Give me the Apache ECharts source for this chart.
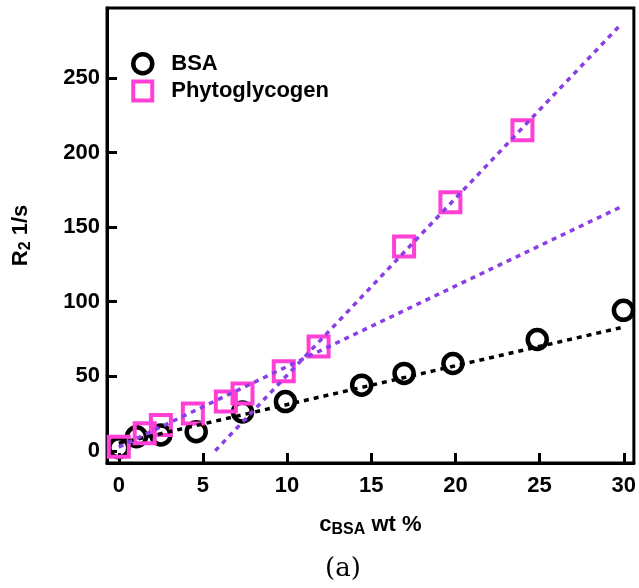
<!DOCTYPE html>
<html>
<head>
<meta charset="utf-8">
<script src="https://cdn.jsdelivr.net/npm/echarts@6/dist/echarts.min.js"></script>
<style>
    html, body { margin: 0; padding: 0; background: #fff; }
    #chart { width: 639px; height: 588px; }
</style>
</head>
<body>
<div id="chart"></div>
<script>
    // data
    var bsaPoints = [[0, 2], [1.05, 9.4], [2.5, 10.6], [4.6, 12.8], [7.35, 26], [9.9, 33],
        [14.43, 44], [16.95, 51.9], [19.85, 58.5], [24.86, 74.6], [29.98, 94.2]];
    var phytoPoints = [[0, 2.7], [1.54, 11.7], [2.5, 17.3], [4.4, 25], [6.36, 33], [7.35, 38.5],
        [9.8, 53.4], [11.87, 70], [16.95, 137], [19.7, 166.7], [23.98, 215]];
    // fitted lines (end points)
    var bsaFit = [[0, 5], [30, 83]];
    var phytoLowFit = [[0, 2.5], [30, 164.5]];
    var phytoHighFit = [[5.73, 0], [29.83, 286]];
    var xTicks = [0, 5, 10, 15, 20, 25, 30];
    var yTicks = [0, 50, 100, 150, 200, 250];

    var font = 'Liberation Sans, Arial, sans-serif';
    var magenta = '#ff3fd6';
    var purple = '#8a3fe6';

    var chart = echarts.init(document.getElementById('chart'));

    function fitLine(name, data, color) {
        return {
            name: name,
            type: 'line',
            data: data,
            showSymbol: false,
            silent: true,
            z: 5,
            lineStyle: {color: color, width: 3.5, type: [5, 5]}
        };
    }

    var subStyle = {fontFamily: font, fontWeight: 'bold', fontSize: 16, color: '#000', verticalAlign: 'bottom', padding: [10, 0, 0, 0]};

    var option = {
        backgroundColor: '#fff',
        animation: false,
        grid: {
            left: 107, right: 2, top: 8, bottom: 125,
            show: true, borderColor: '#000', borderWidth: 3
        },
        legend: {
            orient: 'vertical',
            left: 126,
            top: 47,
            itemGap: 4,
            itemWidth: 19,
            itemHeight: 19,
            textStyle: {fontFamily: font, fontWeight: 'bold', fontSize: 22, color: '#000', padding: [0, 0, 0, 14]},
            data: [
                {name: 'BSA', icon: 'circle', itemStyle: {color: 'transparent', borderColor: '#000', borderWidth: 4.5, opacity: 1}},
                {name: 'Phytoglycogen', icon: 'rect', itemStyle: {color: 'transparent', borderColor: magenta, borderWidth: 4, opacity: 1}}
            ]
        },
        xAxis: {
            type: 'value',
            min: -0.7,
            max: 30.6,
            name: 'c{sub|BSA} wt %',
            nameLocation: 'middle',
            nameGap: 49,
            nameTextStyle: {
                fontFamily: font, fontWeight: 'bold', fontSize: 22, color: '#000',
                rich: {sub: subStyle}
            },
            axisLine: {onZero: false, lineStyle: {color: '#000', width: 3}},
            axisTick: {inside: true, length: 10, lineStyle: {color: '#000', width: 3}, customValues: xTicks},
            axisLabel: {fontFamily: font, fontWeight: 'bold', fontSize: 22, color: '#000', margin: 12, customValues: xTicks},
            splitLine: {show: false}
        },
        yAxis: {
            type: 'value',
            min: -8.2,
            max: 297,
            name: 'R{sub|2} 1/s',
            nameLocation: 'middle',
            nameGap: 73,
            nameTextStyle: {
                fontFamily: font, fontWeight: 'bold', fontSize: 22, color: '#000',
                rich: {sub: subStyle}
            },
            axisLine: {onZero: false, lineStyle: {color: '#000', width: 3}},
            axisTick: {inside: true, length: 10, lineStyle: {color: '#000', width: 3}, customValues: yTicks},
            axisLabel: {fontFamily: font, fontWeight: 'bold', fontSize: 22, color: '#000', margin: 7, customValues: yTicks},
            splitLine: {show: false}
        },
        graphic: [{
            type: 'text',
            left: 325,
            top: 556,
            style: {text: '(a)', font: '26px "DejaVu Serif", "Liberation Serif", serif', fill: '#000'}
        }],
        series: [
            {
                name: 'BSA',
                type: 'scatter',
                data: bsaPoints,
                symbol: 'circle',
                symbolSize: 19,
                z: 2,
                itemStyle: {color: 'transparent', borderColor: '#000', borderWidth: 4.5, opacity: 1}
            },
            {
                name: 'Phytoglycogen',
                type: 'scatter',
                data: phytoPoints,
                symbol: 'rect',
                symbolSize: 20,
                z: 3,
                itemStyle: {color: 'transparent', borderColor: magenta, borderWidth: 4, opacity: 1}
            },
            fitLine('bsaFit', bsaFit, '#000'),
            fitLine('phytoLowFit', phytoLowFit, purple),
            fitLine('phytoHighFit', phytoHighFit, purple)
        ]
    };
    chart.setOption(option);
</script>
</body>
</html>
